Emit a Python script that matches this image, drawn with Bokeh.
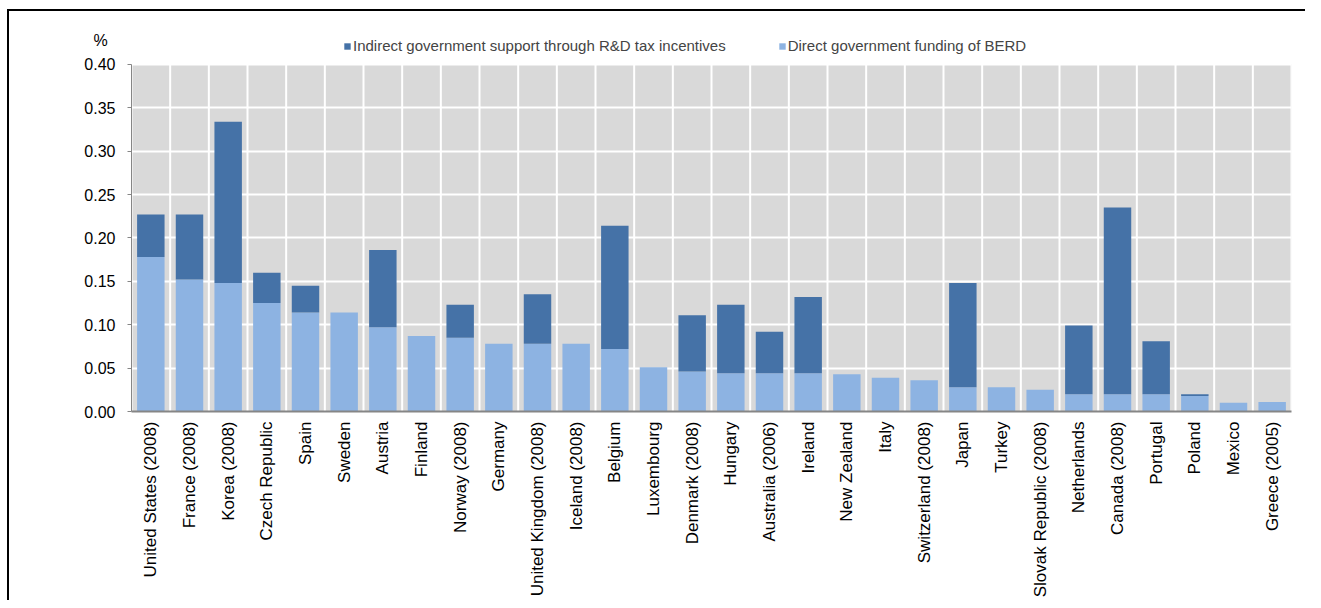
import numpy as np
from bokeh.plotting import figure
from bokeh.models import (Range1d, FactorRange, Legend, LegendItem, Title,
                          SingleIntervalTicker, NumeralTickFormatter, BoxAnnotation)
from bokeh.embed import file_html
from bokeh.resources import INLINE

countries = ["United States (2008)", "France (2008)", "Korea (2008)", "Czech Republic",
             "Spain", "Sweden", "Austria", "Finland", "Norway (2008)", "Germany",
             "United Kingdom (2008)", "Iceland (2008)", "Belgium", "Luxembourg",
             "Denmark (2008)", "Hungary", "Australia (2006)", "Ireland", "New Zealand",
             "Italy", "Switzerland (2008)", "Japan", "Turkey", "Slovak Republic (2008)",
             "Netherlands", "Canada (2008)", "Portugal", "Poland", "Mexico", "Greece (2005)"]

direct = [0.178, 0.152, 0.148, 0.125, 0.114, 0.114, 0.097, 0.087, 0.085, 0.078,
          0.078, 0.078, 0.072, 0.051, 0.046, 0.044, 0.044, 0.044, 0.043, 0.039,
          0.036, 0.028, 0.028, 0.025, 0.020, 0.020, 0.020, 0.018, 0.010, 0.011]

total = [0.227, 0.227, 0.334, 0.160, 0.145, 0.114, 0.186, 0.087, 0.123, 0.078,
         0.135, 0.078, 0.214, 0.051, 0.111, 0.123, 0.092, 0.132, 0.043, 0.039,
         0.036, 0.148, 0.028, 0.025, 0.099, 0.235, 0.081, 0.020, 0.010, 0.011]

indirect = [round(t - d, 4) for t, d in zip(total, direct)]

series_names = ["Indirect government support through R&D tax incentives",
                "Direct government funding of BERD"]
colors = {"direct": "#8DB3E2", "indirect": "#4572A7"}
unit_label = "%"
y_min, y_max, y_step = 0.0, 0.40, 0.05

FONT = "Liberation Sans"

# layout (canvas pixels)
WIDTH, HEIGHT = 1305, 600
FRAME_TOP, AXIS_TOP, FRAME_BOTTOM = 20, 64, 412
y_end = y_max * (FRAME_BOTTOM - FRAME_TOP) / (FRAME_BOTTOM - AXIS_TOP)

p = figure(x_range=FactorRange(factors=countries, range_padding=0),
           y_range=Range1d(y_min, y_end),
           width=WIDTH, height=HEIGHT, output_backend="svg", toolbar_location=None,
           min_border_left=131, min_border_right=14, min_border_top=FRAME_TOP,
           min_border_bottom=HEIGHT - FRAME_BOTTOM)

title = Title(text=unit_label, align="left", offset=-38, text_font=FONT,
              text_font_size="16px", text_font_style="normal", text_color="black",
              vertical_align="bottom")
try:
    title.standoff = -57
except ValueError:
    title.standoff = 0
p.title = title

p.background_fill_color = "white"
p.border_fill_alpha = 0
p.outline_line_color = None
# thin black frame lines (top and left) around the whole chart, as in the original
p.styles = {"background": ("linear-gradient(#000, #000) 7px 9px / 2px 100% no-repeat, "
                           "linear-gradient(#000, #000) 7px 9px / 100% 2px no-repeat, #fff")}

# grey plotting area 0 .. 0.40
p.add_layout(BoxAnnotation(bottom=y_min, top=y_max, fill_color="#D9D9D9",
                           fill_alpha=1, line_color=None, level="image"))

data = {"country": countries, "direct": direct, "indirect": indirect}
rs = p.vbar_stack(["direct", "indirect"], x="country", width=0.71, source=data,
                  color=[colors["direct"], colors["indirect"]], line_color=None)

# vertical white separators between categories
bounds_x = list(range(len(countries) + 1))
p.segment(x0=bounds_x, y0=[y_min] * len(bounds_x), x1=bounds_x, y1=[y_max] * len(bounds_x),
          line_color="white", line_width=2, level="underlay")

p.xgrid.grid_line_color = None
p.ygrid.grid_line_color = "white"
p.ygrid.grid_line_width = 2
p.ygrid.bounds = (y_min, y_max)

p.yaxis.ticker = SingleIntervalTicker(interval=y_step)
p.yaxis.bounds = (y_min, y_max)
p.yaxis.formatter = NumeralTickFormatter(format="0.00")
p.yaxis.major_label_text_font = FONT
p.yaxis.major_label_text_font_size = "16px"
p.yaxis.major_label_text_color = "black"
p.yaxis.axis_line_color = "#868686"
p.yaxis.major_tick_line_color = "#868686"
p.yaxis.major_tick_out = 4
p.yaxis.major_tick_in = 0
p.yaxis.minor_tick_line_color = None
p.yaxis.major_label_standoff = 12

p.xaxis.major_label_orientation = np.pi / 2
p.xaxis.major_label_text_font = FONT
p.xaxis.major_label_text_font_size = "17px"
p.xaxis.major_label_text_color = "black"
p.xaxis.axis_line_color = "#868686"
p.xaxis.axis_line_width = 2
p.xaxis.major_tick_line_color = None
p.xaxis.major_tick_out = 0
p.xaxis.major_label_standoff = 10

legend = Legend(items=[LegendItem(label=series_names[0], renderers=[rs[1]]),
                       LegendItem(label=series_names[1], renderers=[rs[0]])],
                orientation="horizontal", location=(212, 357),
                label_text_font=FONT, label_text_font_size="15px",
                glyph_width=8, glyph_height=8, label_standoff=2, spacing=52,
                padding=0, margin=0, border_line_color=None,
                background_fill_alpha=0)
p.add_layout(legend, "center")

open("out.html", "w").write(file_html(p, INLINE))
